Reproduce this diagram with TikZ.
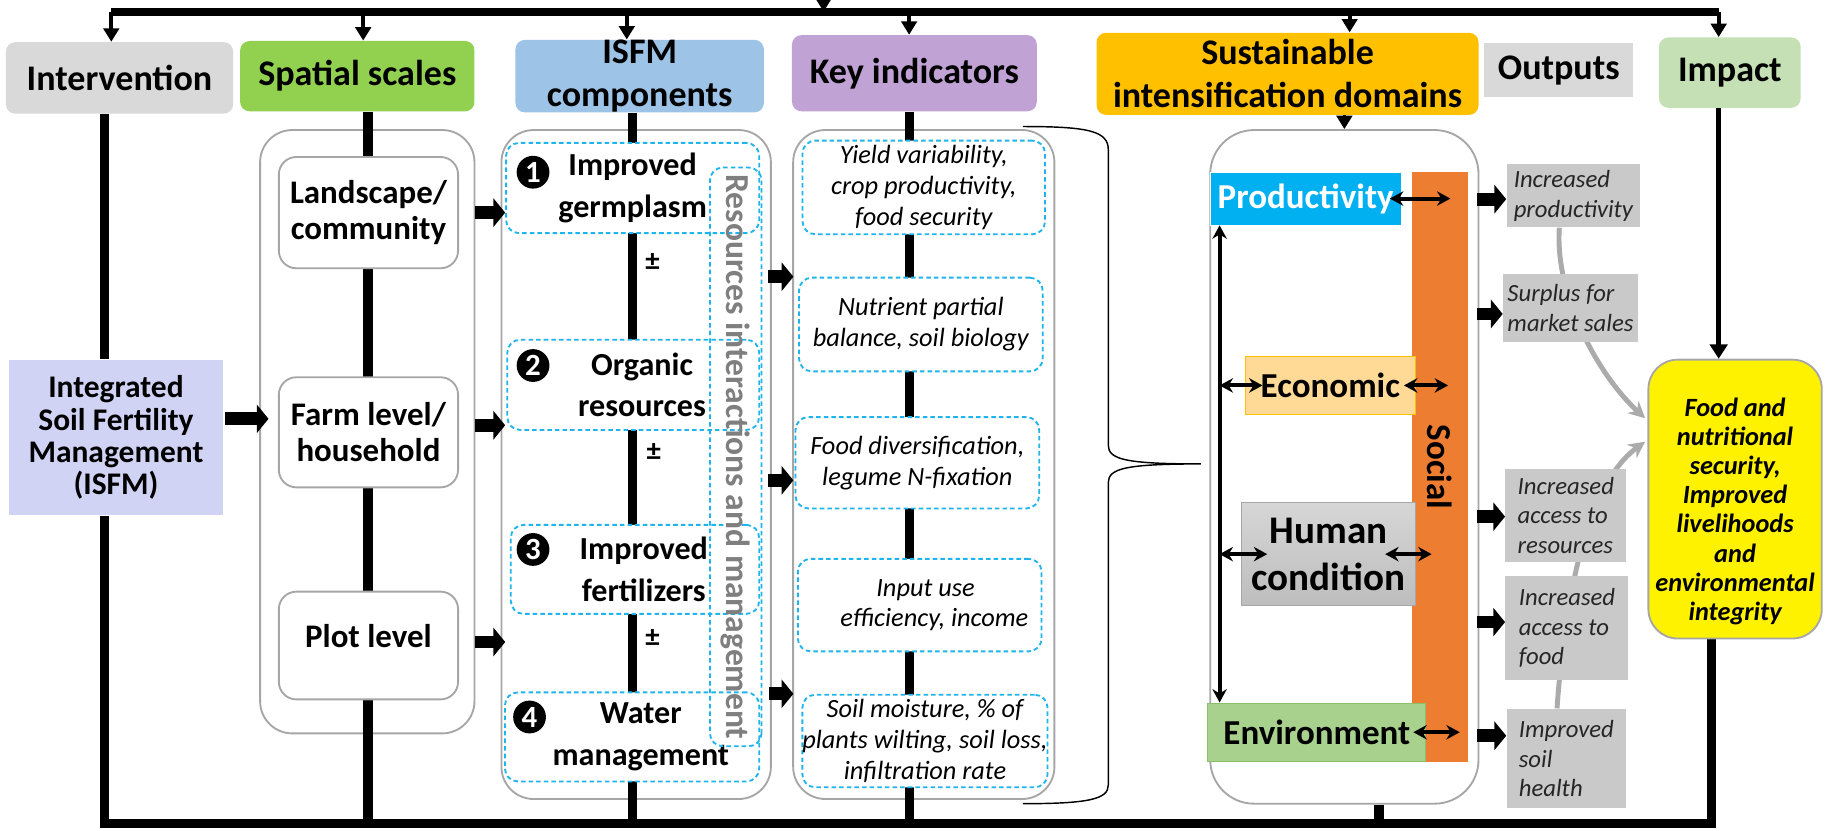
\documentclass[tikz,border=0pt]{standalone}
\usepackage{fontspec}
\setmainfont{Carlito}
\usetikzlibrary{calc, arrows.meta}

\definecolor{hdrgray}{HTML}{D9D9D9}
\definecolor{spatgreen}{HTML}{92D050}
\definecolor{compblue}{HTML}{9DC3E6}
\definecolor{keypurple}{HTML}{C0A2D4}
\definecolor{sustorange}{HTML}{FFC000}
\definecolor{impgreen}{HTML}{C5E0B4}
\definecolor{isfmlav}{HTML}{D1D3F5}
\definecolor{panelgray}{HTML}{A6A6A6}
\definecolor{dashblue}{HTML}{1FB4EC}
\definecolor{resgray}{HTML}{7F7F7F}
\definecolor{prodblue}{HTML}{00B0F0}
\definecolor{econfill}{HTML}{FFD996}
\definecolor{socialorange}{HTML}{ED7D31}
\definecolor{humtop}{HTML}{D6D6D6}
\definecolor{humbot}{HTML}{BDBDBD}
\definecolor{envgreen}{HTML}{A9D18E}
\definecolor{envedge}{HTML}{8CBF6A}
\definecolor{outgray}{HTML}{C9C9C9}
\definecolor{curvegray}{HTML}{ABABAB}

\pgfdeclarelayer{panels}
\pgfdeclarelayer{lines}
\pgfsetlayers{panels,lines,main}

\newcommand{\gridu}{0.02cm}
\newcommand{\fsz}[2]{\fontsize{#1}{#2}\selectfont}

\tikzset{
    sz/.style 2 args={minimum width=#1*\gridu, minimum height=#2*\gridu},
    header/.style={rounded corners=0.16cm, inner sep=0pt, align=center, font=\fsz{17.5}{21}\bfseries},
    panel/.style={draw=panelgray, line width=0.9pt, rounded corners=0.55cm, fill=white, inner sep=0pt},
    scalebox/.style={draw=panelgray, line width=0.9pt, rounded corners=0.3cm, fill=white, inner sep=0pt, align=center, font=\fsz{16}{17.6}\bfseries},
    dashbox/.style={draw=dashblue, line width=0.9pt, dash pattern=on 2.2pt off 1.5pt, rounded corners=0.22cm, inner sep=0pt, align=center},
    compbox/.style={dashbox, fill=white, font=\fsz{15.6}{20.4}\bfseries},
    keybox/.style={dashbox, fill=white, font=\fsz{12.8}{15}\itshape},
    numdot/.style={circle, fill=black, text=white, inner sep=0pt, minimum size=0.56cm, font=\fsz{15}{15}\bfseries},
    domlabel/.style={inner sep=0pt, align=center, font=\fsz{17}{19}\bfseries},
    outbox/.style={fill=outgray, inner sep=0pt, align=left, text=black!85, font=\fsz{12}{14.5}\itshape},
    mainline/.style={line width=4.5pt},
    topline/.style={line width=3.7pt},
    dnarrow/.style={line width=1.8pt, -{Triangle[length=6.5pt, width=7.5pt]}},
    blockarrow/.style={line width=6.2pt, -{Triangle[length=5.7pt, width=13.6pt]}},
    dblarrow/.style={line width=1.9pt, {Stealth[length=6.5pt, width=7pt]}-{Stealth[length=6.5pt, width=7pt]}},
    curvearrow/.style={draw=curvegray, line width=2.4pt, -{Stealth[length=8pt, width=8pt]}}
}

\begin{document}
\begin{tikzpicture}[x=0.02cm, y=-0.02cm]
    \useasboundingbox (0,0) rectangle (1568,709);

    % Column headers
    \node[header, fill=hdrgray, sz={194}{61}] (intv) at (102,66.5) {Intervention};
    \node[header, fill=spatgreen, sz={200}{60}] (spat) at (305,65) {Spatial scales};
    \node[header, fill=compblue, sz={212}{60}] (comp) at (546,65) {ISFM\\components};
    \node[header, fill=keypurple, sz={209}{65}] (key) at (780.5,62.5) {Key indicators};
    \node[header, fill=sustorange, sz={326}{70}] (sust) at (1099,63) {Sustainable\\intensification domains};
    \node[header, fill=hdrgray, sharp corners, sz={127}{46}] (outp) at (1330.5,60) {Outputs};
    \node[header, fill=impgreen, sz={121}{60}] (imp) at (1476.5,62) {Impact};

    % Rounded panels behind each column
    \begin{pgfonlayer}{panels}
        \node[panel, sz={183}{515}] (spatbg) at (313.5,368.5) {};
        \node[panel, sz={230}{571}] (compbg) at (543,396.5) {};
        \node[panel, sz={223}{571}] (keybg) at (788.5,396.5) {};
        \node[panel, rounded corners=0.75cm, sz={229}{575}] (sustbg) at (1147.5,398.5) {};
    \end{pgfonlayer}

    % Intervention
    \node[fill=isfmlav, sz={182}{133}, inner sep=0pt, align=center, font=\fsz{15.3}{15.7}\bfseries] (isfm) at (99,373.5)
        {Integrated\\Soil Fertility\\Management\\(ISFM)};

    % Spatial scales
    \node[scalebox, sz={153}{95}] (land) at (314.5,181.5) {Landscape/\\community};
    \node[scalebox, sz={153}{94}] (farm) at (314.5,369) {Farm level/\\household};
    \node[scalebox, sz={153}{92}] (plot) at (314.5,551) {Plot level\rule[-9pt]{0pt}{9pt}};

    % ISFM components
    \node[compbox, sz={216}{77}] (c1) at (540,160.5) {Improved\\germplasm};
    \node[compbox, sz={215}{77}] (c2) at (540.5,328.5) {\hspace*{0.3cm}Organic\\\hspace*{0.3cm}resources};
    \node[compbox, sz={212}{76}] (c3) at (542,486) {\hspace*{0.3cm}Improved\\\hspace*{0.3cm}fertilizers};
    \node[compbox, sz={217}{76}] (c4) at (539.5,629) {\hspace*{0.3cm}Water\\\hspace*{0.3cm}management};
    \node[numdot] (n1) at (455,147) {1};
    \node[numdot] (n2) at (455,312) {2};
    \node[numdot] (n3) at (455,469) {3};
    \node[numdot] (n4) at (452,612) {4};
    \node[font=\fsz{14}{14}\bfseries] (pm1) at (557,224) {±};
    \node[font=\fsz{14}{14}\bfseries] (pm2) at (558,386) {±};
    \node[font=\fsz{14}{14}\bfseries] (pm3) at (557,545) {±};
    \node[dashbox, rotate=-90, sz={494}{44}, text=resgray, font=\fsz{16.3}{18}\bfseries] (res) at (628,390)
        {Resources interactions and management};

    % Key indicators
    \node[keybox, sz={207}{80}] (k1) at (788.5,160) {Yield variability,\\crop productivity,\\food security};
    \node[keybox, sz={208}{80}] (k2) at (786,277) {Nutrient partial\\balance, soil biology};
    \node[keybox, sz={208}{78}] (k3) at (783,395) {Food diversification,\\legume N-fixation};
    \node[keybox, sz={208}{79}] (k4) at (785,516.5) {\hspace*{0.2cm}Input use\\\hspace*{0.5cm}efficiency, income};
    \node[keybox, sz={209}{79}] (k5) at (789.5,632.5) {Soil moisture, \% of\\plants wilting, soil loss,\\infiltration rate};

    % Brace gathering the indicators
    \draw[line width=0.7pt] (873,108) .. controls (930,108) and (946,112) .. (946,128) -- (946,380)
        .. controls (946,392) and (960,396) .. (1025,396)
        .. controls (960,396) and (946,400) .. (946,412) -- (946,670)
        .. controls (946,682) and (930,686) .. (873,686);

    % Sustainable intensification domains
    \node[domlabel, fill=socialorange, rotate=-90, sz={503}{48}] (social) at (1229,398.5) {Social};
    \node[domlabel, fill=prodblue, draw=white, text=white, sz={163}{45}] (prod) at (1114.5,169.5) {Productivity};
    \node[domlabel, fill=econfill, draw=sustorange, sz={145}{50}] (econ) at (1135.5,329) {Economic};
    \node[domlabel, draw=panelgray, top color=humtop, bottom color=humbot, sz={148}{88}, font=\fsz{19}{22.7}\bfseries] (human) at (1134,473) {Human\\condition};
    \node[domlabel, fill=envgreen, draw=envedge, sz={186}{50}] (env) at (1124,625) {Environment};

    \coordinate (vx) at (1041,0);
    \draw[dblarrow] (vx |- prod.south) -- (vx |- env.north);
    \draw[dblarrow] (vx |- econ.west) -- ($(econ.west)+(15,0)$);
    \draw[dblarrow] (vx |- human.west) -- ($(human.west)+(22,0)$);
    \draw[dblarrow] ($(prod.east)+(-10,0)$) -- ($(social.center |- prod.east)+(9,0)$);
    \draw[dblarrow] ($(econ.east)+(-10,0)$) -- ($(social.center |- econ.east)+(7,0)$);
    \draw[dblarrow] ($(human.east)+(-26,0)$) -- ($(social.center |- human.east)+(-7,0)$);
    \draw[dblarrow] ($(env.east)+(-11,0)$) -- ($(social.center |- env.east)+(17,0)$);

    % Outputs
    \node[outbox, sz={114}{54}] (o1) at (1343,167) {Increased\\productivity};
    \node[outbox, sz={115}{58}] (o2) at (1340.5,263) {Surplus for\\market sales};
    \node[outbox, sz={103}{80}] (o3) at (1336.5,440) {Increased\\access to\\resources};
    \node[outbox, sz={105}{88}] (o4) at (1337.5,536) {Increased\\access to\\food};
    \node[outbox, sz={102}{85}] (o5) at (1337,647.5) {Improved\\soil\\health};

    % Impact
    \node[draw=panelgray, line width=0.9pt, fill=yellow, rounded corners=0.5cm, sz={148}{238}, inner sep=0pt, align=center,
        font=\fsz{12.8}{14.1}\bfseries\itshape] (yel) at (1481,426)
        {\rule{0pt}{21pt}Food and\\nutritional\\security,\\Improved\\livelihoods\\and\\environmental\\integrity};

    % Feedback line along the top
    \coordinate (t0) at (703,10);
    \coordinate (tin) at (703,-6);
    \coordinate (t1) at (95,10);
    \coordinate (t2) at (310,10);
    \coordinate (t3) at (535,10);
    \coordinate (t4) at (776,10);
    \coordinate (t5) at (1152,10);
    \coordinate (t6) at (1467,10);
    \draw[topline] (t1) -- (t6);
    \draw[dnarrow] (tin) -- (t0);
    \foreach \c/\n in {t1/intv, t2/spat, t3/comp, t4/key, t5/sust, t6/imp}
        \draw[dnarrow] (\c) -- (\c |- \n.north);
    \draw[dnarrow] (sustbg.north |- sust.south) -- (sustbg.north);
    \draw[line width=2.6pt, -{Triangle[length=7pt, width=8.5pt]}] (t6 |- imp.south) -- (t6 |- yel.north);

    % Spines of the columns and the bottom line
    \coordinate (b1) at (89,703);
    \coordinate (b2) at (314,703);
    \coordinate (b3) at (540,703);
    \coordinate (b4) at (776,703);
    \coordinate (b5) at (1177,703);
    \coordinate (b9) at (1461,703);
    \begin{pgfonlayer}{lines}
        \draw[mainline] (b1 |- intv.south) -- (b1 |- isfm.north);
        \draw[mainline, line join=miter] (b1 |- isfm.south) -- (b1) -- (b9) -- (b9 |- yel.south);
        \draw[mainline] (b2 |- spat.south) -- (b2);
        \draw[mainline] (b3 |- comp.south) -- (b3);
        \draw[mainline] (b4 |- key.south) -- (b4);
        \draw[mainline] (b5 |- sustbg.south) -- (b5);
        % outputs feeding the impact
        \draw[curvearrow] ($(o1.south)+(-12,0)$) .. controls (1327,250) and (1362,318) .. ($(yel.west)+(-2,-69)$);
        \draw[curvearrow] ($(o5.north)+(-8,0)$) .. controls (1335,520) and (1352,415) .. ($(yel.west)+(-2,-49)$);
    \end{pgfonlayer}

    % Block arrows between columns
    \draw[blockarrow] ($(isfm.east)+(2,-16)$) -- ($(spatbg.west |- isfm.east)+(8,-16)$);
    \draw[blockarrow] (spatbg.east |- land) -- ($(compbg.west |- land)+(4,0)$);
    \draw[blockarrow] ($(spatbg.east |- farm)+(0,-6)$) -- ($(compbg.west |- farm)+(4,-6)$);
    \draw[blockarrow] ($(spatbg.east |- plot)+(0,-3)$) -- ($(compbg.west |- plot)+(4,-3)$);
    \draw[blockarrow] ($(compbg.east |- k2.north)+(-3,0)$) -- ($(keybg.west |- k2.north)+(1,0)$);
    \draw[blockarrow] ($(compbg.east |- k3)+(-3,15)$) -- ($(keybg.west |- k3)+(1,15)$);
    \draw[blockarrow] ($(compbg.east |- k5.north)+(-2,0)$) -- ($(keybg.west |- k5.north)+(1,0)$);
    \foreach \o/\dy in {o1/3, o2/5, o3/1, o4/-5, o5/-19.5}
        \draw[blockarrow] ($(sustbg.east |- \o.west)+(-2,\dy)$) -- ($(\o.west)+(0,\dy)$);
\end{tikzpicture}
\end{document}
